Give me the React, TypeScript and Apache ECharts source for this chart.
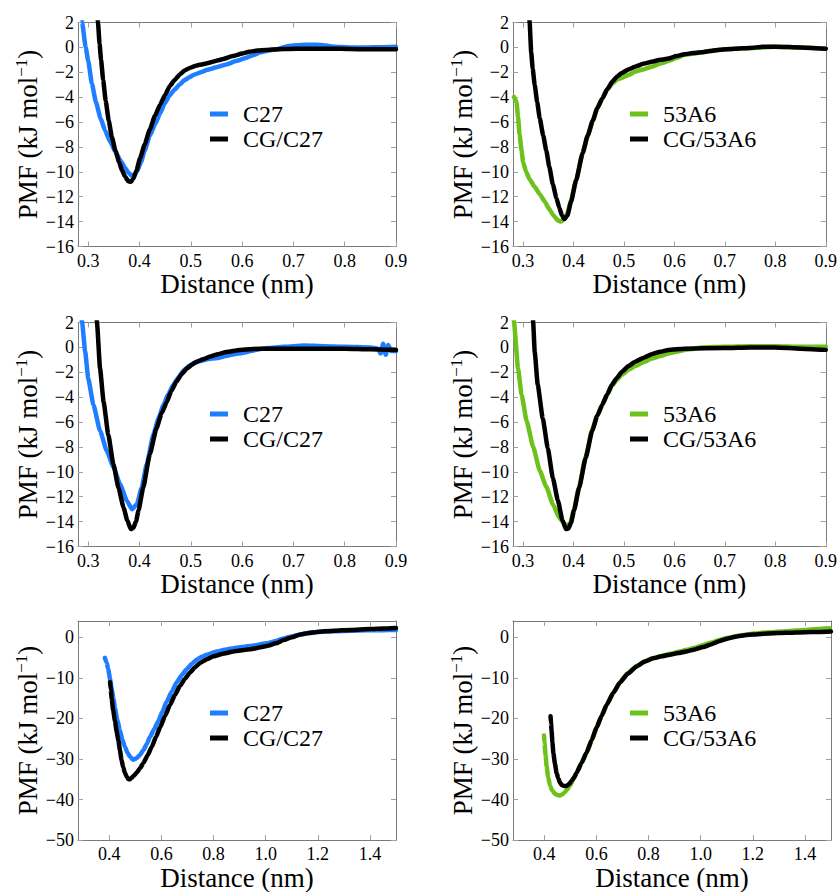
import React, { useEffect, useRef } from "react";
import * as echarts from "echarts";

// ---------- DATA ----------
const topXTicks = [0.3, 0.4, 0.5, 0.6, 0.7, 0.8, 0.9];
const topYTicks = [-16, -14, -12, -10, -8, -6, -4, -2, 0, 2];
const botXTicks = [0.4, 0.6, 0.8, 1.0, 1.2, 1.4];
const botYTicks = [-50, -40, -30, -20, -10, 0];

// Panel 1: C27 vs CG/C27 (top left)
const p1AX = [0.284, 0.288, 0.295, 0.3, 0.307, 0.315, 0.324, 0.333, 0.343, 0.353, 0.363, 0.372, 0.379, 0.386, 0.395, 0.403, 0.41, 0.42, 0.43, 0.44, 0.449, 0.458, 0.468, 0.478, 0.487, 0.497, 0.506, 0.52, 0.532, 0.55, 0.571, 0.588, 0.604, 0.62, 0.636, 0.652, 0.669, 0.688, 0.714, 0.735, 0.753, 0.779, 0.81, 0.843, 0.87, 0.9];
const p1AY = [4, 2, 0, -1.1, -2.9, -4.4, -5.7, -6.7, -7.6, -8.4, -9.1, -9.7, -10.1, -10.35, -10.0, -9.2, -8.3, -7.1, -6.2, -5.3, -4.5, -3.9, -3.4, -3.0, -2.65, -2.4, -2.2, -2.0, -1.8, -1.6, -1.35, -1.1, -0.9, -0.65, -0.4, -0.25, -0.15, 0.1, 0.2, 0.22, 0.2, 0.05, 0.0, 0.0, 0.02, 0.05];
const p1BX = [0.317, 0.319, 0.322, 0.325, 0.329, 0.334, 0.34, 0.346, 0.353, 0.36, 0.366, 0.372, 0.378, 0.383, 0.388, 0.394, 0.401, 0.41, 0.42, 0.43, 0.44, 0.45, 0.459, 0.469, 0.479, 0.488, 0.498, 0.508, 0.517, 0.53, 0.543, 0.562, 0.582, 0.6, 0.614, 0.63, 0.647, 0.67, 0.692, 0.72, 0.744, 0.776, 0.81, 0.843, 0.87, 0.9];
const p1BY = [4, 2, 0.3, -1.0, -2.6, -4.3, -5.9, -7.2, -8.3, -9.2, -9.9, -10.4, -10.75, -10.8, -10.55, -9.9, -8.9, -7.8, -6.6, -5.5, -4.6, -3.8, -3.1, -2.6, -2.15, -1.85, -1.65, -1.5, -1.4, -1.3, -1.15, -0.95, -0.7, -0.5, -0.35, -0.25, -0.2, -0.15, -0.12, -0.1, -0.1, -0.1, -0.13, -0.15, -0.15, -0.15];

// Panel 2: 53A6 vs CG/53A6 (top right)
const p2AX = [0.282, 0.287, 0.29, 0.293, 0.297, 0.3, 0.306, 0.313, 0.323, 0.333, 0.343, 0.352, 0.36, 0.369, 0.375, 0.381, 0.388, 0.395, 0.405, 0.418, 0.428, 0.438, 0.447, 0.457, 0.467, 0.477, 0.486, 0.496, 0.51, 0.522, 0.54, 0.555, 0.572, 0.588, 0.604, 0.62, 0.637, 0.653, 0.67, 0.686, 0.72, 0.75, 0.775, 0.8, 0.85, 0.9];
const p2AY = [-4.0, -4.4, -5.6, -7.0, -8.3, -9.2, -10.0, -10.6, -11.2, -11.8, -12.4, -13.0, -13.5, -13.9, -14.0, -13.8, -13.3, -12.3, -10.7, -8.5, -7.1, -5.9, -4.9, -4.1, -3.4, -2.9, -2.6, -2.45, -2.2, -1.95, -1.75, -1.55, -1.3, -1.1, -0.85, -0.6, -0.5, -0.4, -0.3, -0.2, -0.1, -0.05, 0.0, 0.05, 0.0, -0.1];
const p2BX = [0.311, 0.313, 0.316, 0.319, 0.323, 0.328, 0.333, 0.34, 0.346, 0.352, 0.359, 0.366, 0.372, 0.377, 0.382, 0.388, 0.395, 0.405, 0.418, 0.428, 0.438, 0.447, 0.457, 0.467, 0.477, 0.486, 0.496, 0.51, 0.522, 0.54, 0.555, 0.572, 0.588, 0.604, 0.62, 0.637, 0.653, 0.67, 0.686, 0.72, 0.75, 0.775, 0.8, 0.85, 0.9];
const p2BY = [4, 2, -0.35, -1.7, -3.0, -4.4, -5.7, -7.1, -8.3, -9.6, -11.0, -12.1, -12.9, -13.5, -13.8, -13.5, -12.4, -10.7, -8.5, -7.1, -5.9, -4.9, -4.1, -3.35, -2.75, -2.35, -2.05, -1.75, -1.55, -1.3, -1.15, -1.0, -0.9, -0.7, -0.55, -0.45, -0.4, -0.3, -0.2, -0.1, -0.05, 0.05, 0.05, 0.0, -0.1];

// Panel 3: C27 vs CG/C27 (middle left)
const p3AX = [0.285, 0.288, 0.294, 0.3, 0.31, 0.323, 0.336, 0.349, 0.362, 0.375, 0.385, 0.395, 0.404, 0.414, 0.427, 0.437, 0.447, 0.456, 0.466, 0.476, 0.486, 0.496, 0.506, 0.519, 0.532, 0.552, 0.568, 0.584, 0.6, 0.617, 0.633, 0.649, 0.682, 0.72, 0.76, 0.8, 0.85, 0.865, 0.87, 0.875, 0.88, 0.885, 0.89, 0.9];
const p3AY = [4, 2, -0.35, -2.5, -4.6, -6.7, -8.3, -9.6, -11.0, -12.3, -13.0, -12.6, -11.3, -9.4, -7.0, -5.7, -4.6, -3.75, -3.0, -2.4, -1.85, -1.5, -1.25, -1.1, -0.95, -0.85, -0.7, -0.55, -0.45, -0.3, -0.15, -0.05, 0.05, 0.15, 0.1, 0.05, 0.0, -0.1, -0.5, 0.3, -0.6, 0.2, -0.3, -0.3];
const p3BX = [0.315, 0.317, 0.323, 0.33, 0.339, 0.349, 0.359, 0.369, 0.376, 0.383, 0.388, 0.393, 0.398, 0.407, 0.42, 0.433, 0.443, 0.453, 0.462, 0.472, 0.482, 0.492, 0.502, 0.511, 0.524, 0.537, 0.553, 0.569, 0.595, 0.634, 0.7, 0.75, 0.8, 0.85, 0.9];
const p3BY = [4, 2, -1.7, -4.4, -7.0, -9.4, -11.3, -12.9, -13.9, -14.6, -14.5, -14.0, -13.1, -11.3, -8.6, -6.5, -5.3, -4.4, -3.5, -2.75, -2.15, -1.7, -1.4, -1.15, -0.95, -0.75, -0.55, -0.38, -0.2, -0.1, -0.1, -0.1, -0.1, -0.15, -0.2];

// Panel 4: 53A6 vs CG/53A6 (middle right)
const p4AX = [0.28, 0.282, 0.29, 0.297, 0.307, 0.32, 0.333, 0.346, 0.359, 0.372, 0.378, 0.385, 0.393, 0.401, 0.411, 0.424, 0.437, 0.447, 0.457, 0.467, 0.476, 0.486, 0.496, 0.509, 0.522, 0.538, 0.555, 0.572, 0.588, 0.604, 0.62, 0.64, 0.653, 0.7, 0.75, 0.8, 0.85, 0.9];
const p4AY = [4, 2, -1.7, -3.8, -5.9, -8.0, -9.9, -11.2, -12.6, -13.7, -14.0, -14.3, -14.2, -13.0, -11.2, -8.8, -6.6, -5.5, -4.6, -3.8, -3.1, -2.6, -2.2, -1.8, -1.5, -1.2, -0.9, -0.7, -0.5, -0.35, -0.2, -0.1, 0.0, 0.05, 0.1, 0.1, 0.05, 0.05];
const p4BX = [0.318, 0.32, 0.323, 0.329, 0.339, 0.349, 0.359, 0.369, 0.378, 0.385, 0.39, 0.395, 0.401, 0.411, 0.424, 0.437, 0.447, 0.457, 0.467, 0.476, 0.486, 0.496, 0.509, 0.522, 0.538, 0.555, 0.572, 0.588, 0.62, 0.7, 0.75, 0.8, 0.85, 0.9];
const p4BY = [4, 2, -0.35, -3.0, -5.7, -8.1, -10.5, -12.3, -13.9, -14.6, -14.55, -14.1, -13.1, -11.3, -8.9, -6.7, -5.5, -4.6, -3.75, -3.0, -2.45, -1.95, -1.5, -1.15, -0.85, -0.55, -0.35, -0.2, -0.1, -0.05, 0.0, 0.0, -0.1, -0.2];

// Panel 5: C27 vs CG/C27 (bottom left)
const p5AX = [0.383, 0.39, 0.396, 0.403, 0.409, 0.416, 0.422, 0.431, 0.441, 0.45, 0.46, 0.47, 0.479, 0.492, 0.505, 0.518, 0.531, 0.544, 0.556, 0.572, 0.588, 0.604, 0.62, 0.64, 0.659, 0.678, 0.697, 0.716, 0.736, 0.755, 0.774, 0.813, 0.85, 0.877, 0.941, 1.005, 1.04, 1.069, 1.1, 1.133, 1.165, 1.197, 1.26, 1.33, 1.39, 1.45, 1.5];
const p5AY = [-5.1, -6.3, -7.9, -10.3, -12.7, -15.2, -17.5, -20.5, -23.0, -25.2, -27.0, -28.5, -29.4, -30.2, -29.8, -29.0, -27.8, -26.3, -24.6, -22.7, -20.7, -18.3, -15.9, -13.4, -11.1, -9.3, -7.9, -6.6, -5.5, -4.8, -4.3, -3.5, -3.0, -2.7, -2.15, -1.5, -0.9, -0.3, 0.2, 0.7, 1.05, 1.3, 1.5, 1.6, 1.7, 1.75, 1.8];
const p5BX = [0.403, 0.406, 0.409, 0.415, 0.422, 0.428, 0.435, 0.441, 0.447, 0.453, 0.46, 0.467, 0.473, 0.48, 0.486, 0.495, 0.505, 0.518, 0.531, 0.547, 0.563, 0.579, 0.595, 0.614, 0.633, 0.652, 0.672, 0.691, 0.71, 0.729, 0.749, 0.775, 0.8, 0.84, 0.877, 0.941, 1.005, 1.04, 1.069, 1.1, 1.133, 1.165, 1.197, 1.26, 1.326, 1.4, 1.45, 1.5];
const p5BY = [-11.1, -13.0, -15.1, -18.0, -20.7, -23.2, -25.4, -27.9, -30.2, -32.0, -33.4, -34.4, -35.0, -35.0, -34.6, -34.1, -33.4, -32.3, -31.0, -29.1, -27.0, -24.6, -22.2, -19.4, -16.7, -14.2, -11.9, -10.2, -8.7, -7.4, -6.3, -5.4, -4.7, -4.0, -3.5, -2.95, -2.15, -1.5, -0.7, 0.0, 0.7, 1.05, 1.3, 1.6, 1.8, 2.0, 2.15, 2.3];

// Panel 6: 53A6 vs CG/53A6 (bottom right)
const p6AX = [0.399, 0.401, 0.405, 0.409, 0.415, 0.422, 0.431, 0.441, 0.45, 0.46, 0.47, 0.479, 0.488, 0.498, 0.511, 0.524, 0.543, 0.562, 0.582, 0.601, 0.62, 0.639, 0.665, 0.69, 0.72, 0.754, 0.786, 0.818, 0.85, 0.882, 0.914, 0.946, 0.978, 1.01, 1.042, 1.074, 1.106, 1.138, 1.17, 1.202, 1.26, 1.33, 1.4, 1.45, 1.494];
const p6AY = [-24.2, -26.2, -29.0, -31.8, -34.5, -36.6, -37.8, -38.6, -38.9, -39.0, -38.7, -38.2, -37.5, -36.6, -35.1, -33.4, -31.0, -28.6, -25.4, -22.2, -19.4, -16.7, -13.7, -11.1, -8.9, -7.1, -5.9, -5.1, -4.6, -4.1, -3.6, -3.1, -2.6, -1.9, -1.3, -0.6, -0.1, 0.3, 0.6, 0.9, 1.25, 1.5, 1.8, 2.0, 2.2];
const p6BX = [0.424, 0.426, 0.428, 0.431, 0.435, 0.441, 0.447, 0.454, 0.46, 0.467, 0.473, 0.48, 0.486, 0.495, 0.505, 0.515, 0.524, 0.543, 0.562, 0.582, 0.601, 0.62, 0.639, 0.665, 0.69, 0.72, 0.754, 0.786, 0.818, 0.85, 0.882, 0.914, 0.946, 0.978, 1.01, 1.042, 1.074, 1.106, 1.138, 1.17, 1.202, 1.26, 1.33, 1.4, 1.45, 1.5];
const p6BY = [-19.5, -21.3, -23.0, -25.8, -28.6, -31.2, -33.4, -34.8, -35.8, -36.4, -36.6, -36.7, -36.6, -36.2, -35.4, -34.5, -33.4, -31.0, -28.4, -25.3, -22.2, -19.4, -16.7, -13.7, -11.2, -9.0, -7.2, -6.0, -5.2, -4.7, -4.3, -3.9, -3.5, -3.0, -2.4, -1.7, -0.9, -0.3, 0.2, 0.5, 0.7, 0.95, 1.1, 1.25, 1.3, 1.4];

const namesC27 = ["C27", "CG/C27"];
const names53A6 = ["53A6", "CG/53A6"];

// ---------- STYLE ----------
const FONT = "Liberation Serif";
const BLUE = "#1f7dff";
const GREEN = "#6cc21a";
const BLACK = "#000000";
const FRAME = "#7a7a7a";
const TICK = "#a0a0a0";

const zip = (xs: number[], ys: number[]) => xs.map((x, i) => [x, ys[i]]);

type Panel = {
  left: number; top: number; width: number; height: number;
  xMin: number; xMax: number; xTicks: number[];
  yMin: number; yMax: number; yTicks: number[];
  names: string[]; colors: string[];
  a: number[][]; b: number[][];
  nameGapX: number; legendTop: number; legendLeft: number;
};

const panels: Panel[] = [
  { left: 78, top: 22.5, width: 318, height: 224, xMin: 0.28, xMax: 0.9, xTicks: topXTicks, yMin: -16, yMax: 2, yTicks: topYTicks, names: namesC27, colors: [BLUE, BLACK], a: zip(p1AX, p1AY), b: zip(p1BX, p1BY), nameGapX: 16, legendTop: 97, legendLeft: 205 },
  { left: 513, top: 22.5, width: 318, height: 224, xMin: 0.28, xMax: 0.9, xTicks: topXTicks, yMin: -16, yMax: 2, yTicks: topYTicks, names: names53A6, colors: [GREEN, BLACK], a: zip(p2AX, p2AY), b: zip(p2BX, p2BY), nameGapX: 16, legendTop: 97, legendLeft: 625 },
  { left: 78, top: 322.5, width: 318, height: 224, xMin: 0.28, xMax: 0.9, xTicks: topXTicks, yMin: -16, yMax: 2, yTicks: topYTicks, names: namesC27, colors: [BLUE, BLACK], a: zip(p3AX, p3AY), b: zip(p3BX, p3BY), nameGapX: 16, legendTop: 397, legendLeft: 205 },
  { left: 513, top: 322.5, width: 318, height: 224, xMin: 0.28, xMax: 0.9, xTicks: topXTicks, yMin: -16, yMax: 2, yTicks: topYTicks, names: names53A6, colors: [GREEN, BLACK], a: zip(p4AX, p4AY), b: zip(p4BX, p4BY), nameGapX: 16, legendTop: 397, legendLeft: 625 },
  { left: 78, top: 621, width: 318, height: 225, xMin: 0.28, xMax: 1.5, xTicks: botXTicks, yMin: -50, yMax: 4, yTicks: botYTicks, names: namesC27, colors: [BLUE, BLACK], a: zip(p5AX, p5AY), b: zip(p5BX, p5BY), nameGapX: 21, legendTop: 696, legendLeft: 205 },
  { left: 513, top: 621, width: 318, height: 225, xMin: 0.28, xMax: 1.5, xTicks: botXTicks, yMin: -50, yMax: 4, yTicks: botYTicks, names: names53A6, colors: [GREEN, BLACK], a: zip(p6AX, p6AY), b: zip(p6BX, p6BY), nameGapX: 21, legendTop: 696, legendLeft: 625 },
];

function buildOption() {
  const grid: any[] = [];
  const xAxis: any[] = [];
  const yAxis: any[] = [];
  const series: any[] = [];
  const legend: any[] = [];

  panels.forEach((p, i) => {
    grid.push({ left: p.left, top: p.top, width: p.width, height: p.height, containLabel: false, show: false });
    const lineStyle = { color: FRAME, width: 1 };
    const tick = (vals: number[]) => ({ show: true, inside: true, length: 5, customValues: vals, lineStyle: { color: TICK, width: 1 } });
    xAxis.push({
      type: "value", gridIndex: i, position: "bottom", min: p.xMin, max: p.xMax,
      axisLine: { show: true, onZero: false, lineStyle },
      axisTick: tick(p.xTicks),
      axisLabel: { show: true, customValues: p.xTicks, margin: 5, fontFamily: FONT, fontSize: 18, color: "#000", formatter: (v: number) => v.toFixed(1) },
      splitLine: { show: false },
      name: "Distance (nm)", nameLocation: "middle", nameGap: p.nameGapX,
      nameTextStyle: { fontFamily: FONT, fontSize: 27, color: "#000" },
    });
    xAxis.push({
      type: "value", gridIndex: i, position: "top", min: p.xMin, max: p.xMax,
      axisLine: { show: true, onZero: false, lineStyle },
      axisTick: tick(p.xTicks),
      axisLabel: { show: false },
      splitLine: { show: false },
    });
    yAxis.push({
      type: "value", gridIndex: i, position: "left", min: p.yMin, max: p.yMax,
      axisLine: { show: true, onZero: false, lineStyle },
      axisTick: tick(p.yTicks),
      axisLabel: { show: true, customValues: p.yTicks, margin: 4, fontFamily: FONT, fontSize: 18, color: "#000", formatter: (v: number) => String(v).replace("-", "\u2212") },
      splitLine: { show: false },
      name: "{a|PMF (kJ mol}{s|\u22121}{a|)}", nameLocation: "middle", nameGap: 26, nameRotate: 90,
      nameTextStyle: {
        fontFamily: FONT, fontSize: 27, color: "#000",
        rich: {
          a: { fontFamily: FONT, fontSize: 27, color: "#000", lineHeight: 30 },
          s: { fontFamily: FONT, fontSize: 17, color: "#000", lineHeight: 17, verticalAlign: "top" },
        },
      },
    });
    yAxis.push({
      type: "value", gridIndex: i, position: "right", min: p.yMin, max: p.yMax,
      axisLine: { show: true, onZero: false, lineStyle },
      axisTick: tick(p.yTicks),
      axisLabel: { show: false },
      splitLine: { show: false },
    });
    [p.a, p.b].forEach((data, k) => {
      series.push({
        type: "line", name: p.names[k], xAxisIndex: 2 * i, yAxisIndex: 2 * i,
        data, showSymbol: false, symbol: "none", smooth: 0.15, smoothMonotone: "x", clip: true,
        color: p.colors[k], itemStyle: { color: p.colors[k] },
        lineStyle: { color: p.colors[k], width: 4.5, cap: "round", join: "round" },
        z: 2 + k,
      });
    });
    legend.push({
      show: true, orient: "vertical", left: p.legendLeft, top: p.legendTop,
      itemWidth: 18, itemHeight: 5, itemGap: 1, icon: "rect",
      selectedMode: false,
      data: p.names.map((n, k) => ({ name: n, itemStyle: { color: p.colors[k] } })),
      textStyle: { fontFamily: FONT, fontSize: 24, color: "#000", lineHeight: 22, padding: [0, 0, 0, 10] },
    });
  });

  return { animation: false, backgroundColor: "#ffffff", textStyle: { fontFamily: FONT }, grid, xAxis, yAxis, series, legend };
}

export default function App() {
  const ref = useRef<HTMLDivElement>(null);
  useEffect(() => {
    if (!ref.current) return;
    const chart = echarts.init(ref.current, undefined, { renderer: "svg" });
    chart.setOption(buildOption() as any);
    return () => chart.dispose();
  }, []);
  return <div ref={ref} style={{ position: "absolute", left: 0, top: 0, width: 840, height: 892, background: "#fff" }} />;
}
